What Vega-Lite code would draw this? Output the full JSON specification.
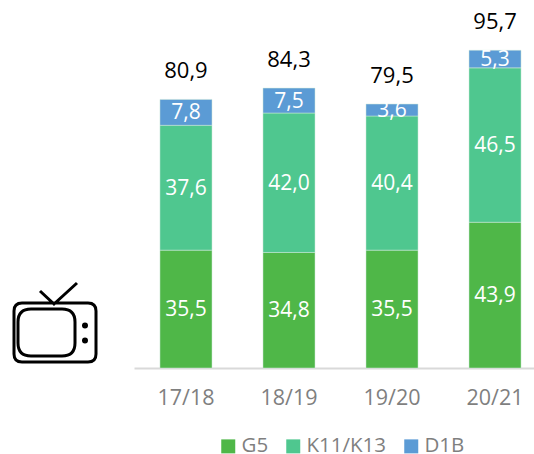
{
"$schema":"https://vega.github.io/schema/vega-lite/v6.json",
"width":534,"height":368,"autosize":{"type":"none"},
"padding":{"left":0,"top":0,"right":0,"bottom":86},
"background":"white",
"config":{"view":{"stroke":null},"font":"Open Sans"},
"layer":[
{"layer":[
{"data":{"name":"parts","values":[
{"season":"17/18","series":"G5","order":1,"value":35.5,"label":"35,5"},
{"season":"17/18","series":"K11/K13","order":2,"value":37.6,"label":"37,6"},
{"season":"17/18","series":"D1B","order":3,"value":7.8,"label":"7,8"},
{"season":"18/19","series":"G5","order":1,"value":34.8,"label":"34,8"},
{"season":"18/19","series":"K11/K13","order":2,"value":42.0,"label":"42,0"},
{"season":"18/19","series":"D1B","order":3,"value":7.5,"label":"7,5"},
{"season":"19/20","series":"G5","order":1,"value":35.5,"label":"35,5"},
{"season":"19/20","series":"K11/K13","order":2,"value":40.4,"label":"40,4"},
{"season":"19/20","series":"D1B","order":3,"value":3.6,"label":"3,6"},
{"season":"20/21","series":"G5","order":1,"value":43.9,"label":"43,9"},
{"season":"20/21","series":"K11/K13","order":2,"value":46.5,"label":"46,5"},
{"season":"20/21","series":"D1B","order":3,"value":5.3,"label":"5,3"}
]},
"transform":[
{"stack":"value","groupby":["season"],"sort":[{"field":"order","order":"ascending"}],"as":["y0","y1"]},
{"calculate":"(datum.y0+datum.y1)/2","as":"mid"}
],
"layer":[
{"mark":{"type":"bar","stroke":"#cfe8d8","strokeWidth":0.5},
"encoding":{
"x":{"field":"season","type":"nominal","title":null,
"scale":{"range":[134,534],"paddingInner":0.495,"paddingOuter":0.189,"align":0.667},
"axis":{"labelAngle":0,"labelColor":"#7f7f7f","labelFontSize":21.5,"labelPadding":19,"labelFont":"Open Sans","ticks":false,"domainColor":"#d9d9d9","domainWidth":2,"grid":false}},
"y":{"field":"y0","type":"quantitative","title":null,"scale":{"domain":[0,110.84],"nice":false},"axis":null},
"y2":{"field":"y1"},
"color":{"field":"series","type":"nominal","scale":{"domain":["G5","K11/K13","D1B"],"range":["#4fb748","#4fc78f","#5b9bd5"]},
"legend":{"title":null,"orient":"none","direction":"horizontal","legendX":218,"legendY":436,"symbolType":"square","symbolSize":196,"symbolStrokeWidth":0,"labelFontSize":20.5,"labelColor":"#7f7f7f","labelFont":"Open Sans","columnPadding":14,"labelOffset":3}}
}},
{"mark":{"type":"text","color":"white","fontSize":21,"font":"Open Sans","dy":1},
"encoding":{
"x":{"field":"season","type":"nominal"},
"y":{"field":"mid","type":"quantitative"},
"text":{"field":"label"}
}}
]},
{"data":{"values":[
{"season":"17/18","total":80.9,"label":"80,9"},
{"season":"18/19","total":84.3,"label":"84,3"},
{"season":"19/20","total":79.5,"label":"79,5"},
{"season":"20/21","total":95.7,"label":"95,7"}
]},
"mark":{"type":"text","color":"black","fontSize":22,"font":"Open Sans","dy":-28},
"encoding":{
"x":{"field":"season","type":"nominal"},
"y":{"field":"total","type":"quantitative"},
"text":{"field":"label"}
}}
]},
{"data":{"values":[{"px":55,"level":13.86}]},
"mark":{"type":"point","filled":false,"stroke":"black","strokeWidth":3,"size":4,"opacity":1,
"shape":"M-33,-19 H33 Q41,-19 41,-11 V32 Q41,40 33,40 H-33 Q-41,40 -41,32 V-11 Q-41,-19 -33,-19 Z M-24,-13 H7 Q20,-13 20,0 V21 Q20,34 7,34 H-24 Q-37,34 -37,21 V0 Q-37,-13 -24,-13 Z M-15,-31 L-1,-18 L22,-39 M28.5,3.5 a1.5,1.5 0 1,0 3,0 a1.5,1.5 0 1,0 -3,0 Z M28.5,18.5 a1.5,1.5 0 1,0 3,0 a1.5,1.5 0 1,0 -3,0 Z"},
"encoding":{
"x":{"field":"px","type":"quantitative","scale":{"domain":[0,534],"nice":false},"axis":null},
"y":{"field":"level","type":"quantitative"}
}}
],
"resolve":{"scale":{"x":"independent"}}
}
